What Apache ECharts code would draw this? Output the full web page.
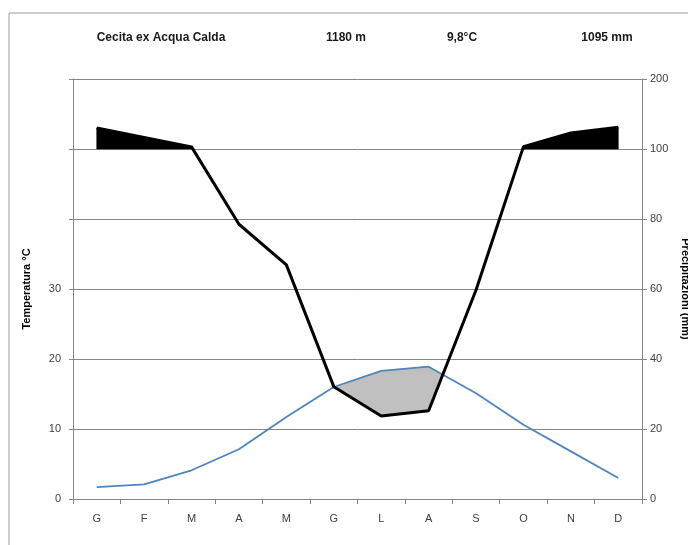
<!DOCTYPE html>
<html>
<head>
<meta charset="utf-8">
<script src="https://cdn.jsdelivr.net/npm/echarts@6/dist/echarts.min.js"></script>
<style>
  html, body { margin: 0; padding: 0; background: #fff; }
  #chart { width: 688px; height: 545px; }
</style>
</head>
<body>
<div id="chart"></div>
<script>
// ---- data ----
const months = ['G', 'F', 'M', 'A', 'M', 'G', 'L', 'A', 'S', 'O', 'N', 'D'];
const temperature = [1.7, 2.1, 4.1, 7.1, 11.7, 16.0, 18.3, 18.9, 15.1, 10.6, 6.8, 3.0];      // °C
const precipitation = [130, 116.5, 103, 78.5, 66.9, 32.1, 23.7, 25.2, 59.7, 103.4, 123, 131]; // mm
const tempTickLabels = [0, 10, 20, 30];
const precipTickLabels = [0, 20, 40, 60, 80, 100, 200];
const headerTexts = ['Cecita ex Acqua Calda', '1180 m', '9,8°C', '1095 mm'];

// ---- scales (Walter-Lieth style: above 100 mm the scale is compressed) ----
const TEMP_MAX = 60, PREC_MAX = 120;
const RATIO = PREC_MAX / TEMP_MAX;        // 10 °C <-> 20 mm
const COMPRESS = 5;                        // 100 mm -> 200 mm over one grid step
function precDisp(p) { return p <= 100 ? p : 100 + (p - 100) / COMPRESS; }
const precipDisp = precipitation.map(precDisp);
const tempDisp = temperature.map(t => t * RATIO);
const hundred = months.map(() => 100);

// regions where upper > lower, in (fractional index, value) space
function regions(upper, lower) {
  const polys = [];
  let top = null, bot = null;
  for (let i = 0; i < upper.length; i++) {
    const d = upper[i] - lower[i];
    if (i > 0) {
      const dp = upper[i - 1] - lower[i - 1];
      if ((dp > 0) !== (d > 0)) {
        const t = dp / (dp - d);
        const x = i - 1 + t;
        const y = upper[i - 1] + (upper[i] - upper[i - 1]) * t;
        if (top) {
          top.push([x, y]); bot.push([x, y]);
          polys.push(top.concat(bot.reverse()));
          top = null; bot = null;
        } else {
          top = [[x, y]]; bot = [];
        }
      }
    }
    if (d > 0) {
      if (!top) { top = []; bot = []; }
      top.push([i, upper[i]]); bot.push([i, lower[i]]);
    }
  }
  if (top) polys.push(top.concat(bot.reverse()));
  return polys;
}
const wetRegions = regions(precipDisp, hundred);
const aridRegions = regions(tempDisp, precipDisp);

function renderFills(params, api) {
  const n = months.length;
  const px = [];
  for (let i = 0; i < n; i++) px.push(api.coord([i, 0])[0]);
  function toPix(pt) {
    const i0 = Math.min(Math.floor(pt[0]), n - 1);
    const i1 = Math.min(i0 + 1, n - 1);
    const f = pt[0] - i0;
    const x = px[i0] + (px[i1] - px[i0]) * f;
    const y = api.coord([0, pt[1]])[1];
    return [x, y];
  }
  const children = [];
  aridRegions.forEach(poly => children.push({
    type: 'polygon', shape: { points: poly.map(toPix) },
    style: { fill: '#c0c0c0', stroke: '#c0c0c0', lineWidth: 0.5 }
  }));
  wetRegions.forEach(poly => children.push({
    type: 'polygon', shape: { points: poly.map(toPix) },
    style: { fill: '#000', stroke: '#000', lineWidth: 0.5 }
  }));
  return { type: 'group', children: children };
}

const chart = echarts.init(document.getElementById('chart'), null, { renderer: 'canvas' });
const FONT = "'Liberation Sans', Arial, sans-serif";
const axisGray = '#868686';
const labelColor = '#404040';
const headerX = [161, 346, 462, 607];

chart.setOption({
  animation: false,
  backgroundColor: '#fff',
  textStyle: { fontFamily: FONT },
  grid: { left: 73, right: 46, top: 79, bottom: 46, containLabel: false, outerBoundsMode: 'none' },
  graphic: [
    { type: 'line', shape: { x1: 9, y1: 13, x2: 688, y2: 13 }, style: { stroke: '#9a9a9a', lineWidth: 1 } },
    { type: 'line', shape: { x1: 9, y1: 13, x2: 9, y2: 545 }, style: { stroke: '#9a9a9a', lineWidth: 1 } }
  ].concat(headerTexts.map((t, i) => ({
    type: 'text', x: headerX[i], y: 38,
    style: { text: t, fill: '#1a1a1a', font: "bold 12px " + FONT, align: 'center', verticalAlign: 'middle' }
  }))),
  xAxis: [{
    type: 'category', data: months, boundaryGap: true,
    axisLine: { lineStyle: { color: axisGray, width: 1 } },
    axisTick: { show: true, length: 5, inside: false, lineStyle: { color: axisGray } },
    axisLabel: { color: labelColor, fontSize: 11, margin: 14, fontFamily: FONT },
    splitLine: { show: false }
  }],
  yAxis: [{
    type: 'value', min: 0, max: TEMP_MAX, interval: 10, position: 'left',
    name: 'Temperatura °C', nameLocation: 'middle', nameGap: 41, nameRotate: 90,
    nameTextStyle: { fontWeight: 'bold', fontSize: 11, color: '#000', fontFamily: FONT },
    axisLine: { show: true, lineStyle: { color: axisGray } },
    axisTick: { show: true, length: 4, lineStyle: { color: axisGray } },
    axisLabel: {
      color: labelColor, fontSize: 11, margin: 12, fontFamily: FONT,
      formatter: v => (tempTickLabels.indexOf(v) >= 0 ? String(v) : '')
    },
    splitLine: { show: true, lineStyle: { color: axisGray, width: 1 } }
  }, {
    type: 'value', min: 0, max: PREC_MAX, interval: 20, position: 'right',
    name: 'Precipitazioni (mm)', nameLocation: 'middle', nameGap: 38, nameRotate: -90,
    nameTextStyle: { fontWeight: 'bold', fontSize: 11, color: '#000', fontFamily: FONT },
    axisLine: { show: true, lineStyle: { color: axisGray } },
    axisTick: { show: true, length: 5, lineStyle: { color: axisGray } },
    axisLabel: {
      color: labelColor, fontSize: 11, margin: 8, fontFamily: FONT,
      formatter: v => String(precipTickLabels[Math.round(v / 20)])
    },
    splitLine: { show: false }
  }],
  series: [{
    type: 'custom', coordinateSystem: 'cartesian2d', xAxisIndex: 0, yAxisIndex: 1,
    data: [[0, 0]], renderItem: renderFills, silent: true, z: 1
  }, {
    name: 'Temperatura', type: 'line', xAxisIndex: 0, yAxisIndex: 0,
    data: temperature, symbol: 'none', z: 3,
    lineStyle: { color: '#4f85bd', width: 1.8 }
  }, {
    name: 'Precipitazioni', type: 'line', xAxisIndex: 0, yAxisIndex: 1,
    data: precipDisp, symbol: 'none', z: 4,
    lineStyle: { color: '#000', width: 3 }
  }]
});
</script>
</body>
</html>
